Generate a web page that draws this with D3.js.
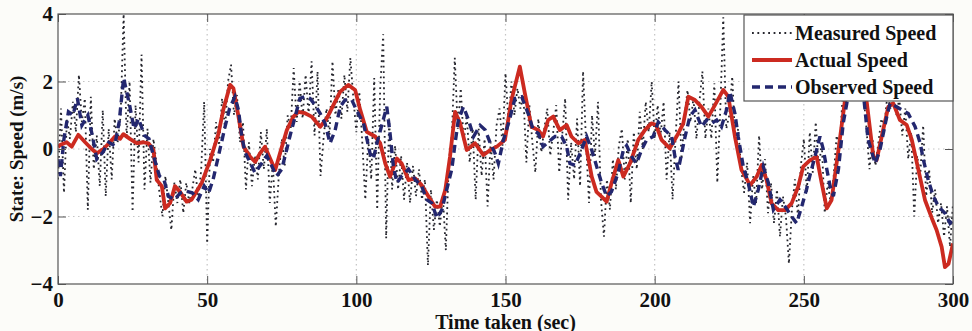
<!DOCTYPE html>
<html>
<head>
<meta charset="utf-8">
<script src="https://cdn.jsdelivr.net/npm/d3@7"></script>
<style>
  body { margin: 0; background: #fcfcf9; }
  text { font-family: "Liberation Serif", "Times New Roman", serif; font-weight: bold; fill: #111; }
</style>
</head>
<body>
<svg id="chart" width="972" height="331"></svg>
<script>
// ---- data ----
const xTicks = [0, 50, 100, 150, 200, 250, 300];
const yTicks = [-4, -2, 0, 2, 4];
const seriesNames = ["Measured Speed", "Actual Speed", "Observed Speed"];

// actual speed, sampled where the curve was read
const actualTime = [0, 0.7, 2.9, 4.6, 6.8, 9.1, 11.3, 13, 15.2, 17.4, 19.1, 20.8, 21.9, 24.1, 26.4, 28.6, 30.3, 32, 33.1, 34.8,
  35.9, 37.6, 39.2, 40.9, 43.1, 44.8, 48.2, 51, 53.8, 55.4, 57.7, 58.8, 60.5, 62.2, 64.4, 66.1, 67.7, 69.4, 71.1, 72.8,
  74.4, 76.7, 78.9, 80.6, 82.8, 85, 87.9, 90.1, 92.3, 94.6, 97.3, 99.6, 101.3, 103.5, 106.3, 108, 109.7, 111.3, 113.6, 115.2,
  117.5, 119.7, 121.9, 124.2, 126.4, 128.1, 129.8, 131.4, 133.1, 134.8, 137, 139.8, 142.6, 144.9, 147.1, 149.8, 152, 154.8, 156.5, 158.7,
  161, 162.6, 164.3, 166, 168.2, 170.5, 172.1, 174.4, 176.6, 178.9, 180.5, 182.2, 183.9, 185.5, 187.8, 189.5, 191.7, 194.5, 196.7, 198.9,
  200.4, 202.3, 205.1, 207.9, 209.6, 211.3, 213.5, 215.7, 218, 220.2, 223, 224.7, 226.9, 229.1, 232, 234.2, 235.9, 237.5, 239.2, 241.4,
  243.7, 245.9, 248.1, 249.8, 252.1, 254.3, 256, 257.7, 259.3, 261.6, 263.8, 266.5, 269, 271, 273.3, 274.4, 276.1, 278.3, 280, 282.2,
  284.5, 286.2, 288.4, 290.6, 292.9, 294.5, 296.2, 297.3, 298.5, 300];
const actualSpeed = [0.05, 0.12, 0.2, 0.07, 0.42, 0.2, 0.0, -0.13, 0.0, 0.2, 0.37, 0.3, 0.44, 0.3, 0.17, 0.2, 0.17, -0.03, -0.92, -1.1,
  -1.76, -1.6, -1.1, -1.27, -1.56, -1.5, -1.0, -0.33, 0.46, 1.16, 1.9, 1.8, 0.96, 0.07, -0.23, -0.38, -0.13, 0.07, -0.28, -0.62,
  -0.13, 0.56, 0.96, 1.1, 1.06, 0.96, 0.66, 0.91, 1.3, 1.7, 1.9, 1.75, 1.16, 0.51, 0.37, 0.17, -0.43, -0.82, -0.28, -0.43,
  -0.92, -0.87, -1.07, -1.41, -1.71, -1.71, -1.22, -0.23, 1.1, 0.76, -0.03, 0.17, -0.18, -0.03, 0.07, 0.27, 1.45, 2.44, 1.65, 0.66,
  0.56, 0.37, 0.86, 0.96, 0.56, 0.71, 0.37, 0.17, 0.27, -0.82, -1.27, -1.41, -1.56, -1.02, -0.33, -0.82, -0.43, 0.27, 0.56, 0.76,
  0.72, 0.27, 0.02, 0.46, 0.76, 1.55, 1.45, 1.25, 0.96, 1.3, 1.75, 1.55, 0.37, -0.62, -1.07, -0.82, -0.47, -0.92, -1.61, -1.81,
  -1.81, -1.61, -1.12, -0.52, -0.33, -0.23, -1.02, -1.76, -1.51, -0.03, 1.45, 2.6, 2.5, 1.45, -0.23, -0.33, 0.37, 1.25, 1.35, 0.86,
  0.71, 0.27, -0.62, -1.51, -2.05, -2.4, -2.9, -3.5, -3.4, -2.8];

// observed (estimated) speed
const observedTime = [0, 0.8, 2, 3.5, 5, 6.5, 8, 10, 11.5, 13, 15, 17, 19, 20.5, 22, 24, 25.5, 27, 29, 30.5,
  32, 34, 35.5, 37, 39, 41, 43, 45, 47, 49, 50.5, 52, 53.8, 56, 57.5, 59.3, 60.5, 61.6, 62.7, 64.4,
  66, 67.7, 70, 71.6, 73.3, 75, 76.7, 77.8, 79.5, 81.1, 82.8, 84.5, 86.2, 87.9, 89.5, 91.2, 92.9, 94.6, 96.2, 98.5,
  100, 102.4, 104.6, 105.7, 106.9, 109, 110.2, 111.3, 112.4, 113.6, 115.2, 117.5, 119.7, 121.9, 123.6, 125.3, 127, 128.7, 130.3, 132,
  133.1, 134.2, 135.9, 137.6, 139.3, 141.5, 143.2, 144.9, 146.5, 147.6, 149.3, 151, 153.2, 155.4, 157.6, 159.3, 161, 162.6, 164.3, 166.6,
  168.8, 170.5, 171.6, 173.3, 175, 177.2, 178.9, 180.5, 182.2, 183.9, 185.5, 187.8, 189.5, 190.6, 192.3, 193.9, 195.6, 197.3, 199.5, 201.2,
  203.5, 205.7, 206.8, 207.9, 210.2, 211.8, 213.5, 215.7, 217.4, 219.1, 220.8, 222.4, 224.1, 225.2, 226.9, 228, 229.7, 231.4, 233.1, 234.7,
  236.4, 238.1, 239.8, 242, 243.7, 245.9, 247.6, 249.3, 250.9, 252, 253.8, 255.4, 256.5, 257.7, 258.8, 259.9, 261.6, 263.2, 264.4, 266,
  268, 270, 271.5, 273.9, 275.5, 277.8, 278.9, 281.1, 282.8, 285, 287.3, 289, 290.1, 291.7, 293.4, 295.1, 297.3, 299, 300];
const observedSpeed = [-0.3, -0.8, 0.3, 1.1, 1.0, 1.5, 0.7, 1.0, 0.4, -0.3, -0.1, 0.2, 0.1, 0.8, 2.1, 1.3, 0.6, 0.9, 0.4, 0.3,
  -0.2, -0.8, -0.9, -1.4, -1.5, -1.3, -1.25, -1.3, -1.5, -1.1, -1.3, -0.9, -0.2, 0.66, 1.2, 1.55, 1.15, 0.37, -0.1, -0.4,
  -0.7, -0.5, -0.2, -0.5, -0.8, -0.6, 0, 0.4, 0.96, 1.5, 1.55, 1.5, 1.3, 1.05, 0.76, 0.17, 0.56, 1.25, 1.45, 1.45,
  1.16, 0.76, -0.13, -0.3, 0.17, 0.86, 1.25, 0.46, -0.5, -1.0, -0.8, -0.6, -0.9, -1.1, -1.5, -1.6, -2.05, -1.8, -1.2, -0.6,
  0.17, 0.86, 1.25, 0.86, 0.37, 0.7, 0.56, 0.17, -0.13, -0.43, 0.27, 0.76, 1.5, 1.55, 1.05, 0.56, 0.46, 0.07, 0.2, 0.37,
  0.37, 0.07, -0.43, -0.48, -0.13, 0.37, -0.03, -0.5, -1.0, -1.4, -1.27, -0.7, -0.03, 0.1, -0.23, -0.43, -0.03, 0.27, 0.37, 0.8,
  0.56, 0.37, -0.23, -0.62, 0.37, 0.96, 1.16, 0.66, 0.86, 0.76, 0.86, 0.66, 1.16, 1.7, 1.05, 0.37, -0.52, -1.02, -1.71, -1.22,
  -0.52, -1.0, -1.8, -1.5, -1.7, -2.0, -2.2, -1.7, -1.2, -0.8, -0.2, 0.37, 0, -0.6, -1.1, -1.4, -0.6, 0.76, 1.35, 2.3,
  2.6, 1.6, 0.3, -0.43, -0.03, 0.96, 1.35, 1.25, 1.16, 1.05, 0.66, 0.17, -0.33, -0.92, -1.4, -1.7, -1.9, -2.2, -2.1];

// measured speed, one sample per second (t = 0..300)
const measuredSpeed = [
  -0.9, 1.2, -1.3, 0.9, 0.3, 1.4, 0.5, 2.2, 0.8, 1.5,
  -1.8, 1.55, -0.6, 0.4, -1.1, 1.15, -1.4, 0.6, -0.9, 0.9,
  0.2, 1.0, 4.0, 0.3, 2.0, -1.86, 1.3, -0.4, 2.8, -1.2,
  0.6, -1.0, 0.3, -0.4, -1.3, -2.0, -0.8, -1.6, -2.4, -1.0,
  -1.6, -0.9, -1.9, -1.0, -1.6, -1.2, -0.6, -1.5, -0.6, 1.4,
  -2.8, 0.0, -0.4, 0.8, 0.1, 1.5, 0.6, 2.0, 2.5, 1.0,
  1.6, 0.2, 0.8, -1.2, 0.2, -1.1, -0.2, -0.9, 0.5, -0.6,
  0.6, -1.6, -0.4, -2.3, -0.8, 0.3, -0.5, 1.0, 0.6, 2.4,
  0.8, 2.0, 0.9, 2.2, 1.0, 2.6, 0.4, 2.3, -0.8, 0.3,
  1.2, 0.4, 2.6, 1.0, 1.8, 0.9, 2.2, 1.1, 2.7, 1.5,
  0.5, 1.7, 0.2, -1.5, 0.3, -0.9, 2.1, -1.8, 1.8, 3.4,
  -2.65, 0.9, -1.2, 0.1, -1.2, -0.2, -1.5, -0.4, -1.6, -0.5,
  -1.4, -0.6, -1.5, -0.9, -3.45, -1.2, -2.4, -1.5, -2.3, -1.4,
  -3.0, -0.4, 0.4, 2.7, 0.6, 1.8, 0.2, 1.0, -0.4, 0.6,
  -1.5, 0.6, -0.8, 0.3, -1.7, 0.2, -0.9, 0.7, 1.2, 0.1,
  2.25, 0.8, 2.0, 1.0, 1.8, 1.2, 1.6, -0.4, 1.3, 0.2,
  -0.7, 0.9, -0.1, 0.6, 1.2, -0.2, 0.5, 1.3, -0.7, 0.4,
  1.5, -1.5, 0.2, -0.9, 0.9, -1.1, 2.3, 0.2, -1.6, 1.0,
  -0.2, 1.4, -1.5, -2.6, -0.9, -1.8, -0.3, -1.2, 0.1, 0.6,
  -0.9, 0.3, -1.6, 0.5, -0.6, 1.1, 0.0, 1.4, 0.5, 2.0,
  0.3, 1.3, 0.4, 1.4, -0.9, 0.5, -1.5, 0.3, 2.0, -0.3,
  0.9, 1.75, 0.8, 1.5, 0.3, 1.4, 2.3, 0.3, 1.2, 0.3,
  1.95, -1.0, 1.2, 3.9, 0.6, 1.0, 2.15, 0.2, 0.6, -0.6,
  -1.3, -0.4, -2.2, -0.8, -1.6, 0.4, -1.2, -0.3, -1.9, -1.0,
  -2.2, -1.2, -2.6, -1.4, -2.0, -3.4, -1.8, -0.9, -2.0, -0.5,
  0.3, -1.3, 0.5, -0.7, 0.8, -0.6, 0.2, -1.9, -1.0, -1.6,
  -0.8, 0.4, 0.0, 1.6, 1.2, 2.5, 2.2, 3.0, 2.4, 2.6,
  1.6, 0.6, -0.6, 0.3, -0.5, 0.2, 0.9, 0.7, 1.6, 1.2,
  1.8, 1.0, 1.5, 0.4, 1.2, -0.3, 0.5, -2.0, -0.2, -0.8,
  0.7, -1.4, -0.6, -1.9, -1.2, -2.2, -1.6, -2.6, -1.7, -2.9,
  -1.6];
const measuredTime = d3.range(0, measuredSpeed.length);

// ---- layout ----
const width = 972, height = 331;
const margin = { top: 14, right: 19, bottom: 47, left: 58 };

const svg = d3.select("#chart");

const x = d3.scaleLinear().domain([0, 300]).range([margin.left, width - margin.right]);
const y = d3.scaleLinear().domain([-4, 4]).range([height - margin.bottom, margin.top]);

svg.append("defs").append("clipPath").attr("id", "plot-clip")
  .append("rect")
  .attr("x", x(0)).attr("y", y(4))
  .attr("width", x(300) - x(0)).attr("height", y(-4) - y(4));

// plot background
svg.append("rect")
  .attr("x", x(0)).attr("y", y(4))
  .attr("width", x(300) - x(0)).attr("height", y(-4) - y(4))
  .attr("fill", "#ffffff");

// dotted grid
const grid = svg.append("g").attr("stroke", "#c4c4c4").attr("stroke-width", 1.2).attr("stroke-dasharray", "1.5,3.5");
grid.selectAll("line.gx").data(xTicks.slice(1, -1)).join("line")
  .attr("x1", d => x(d)).attr("x2", d => x(d))
  .attr("y1", y(4)).attr("y2", y(-4));
grid.selectAll("line.gy").data(yTicks.slice(1, -1)).join("line")
  .attr("y1", d => y(d)).attr("y2", d => y(d))
  .attr("x1", x(0)).attr("x2", x(300));

// series
const plot = svg.append("g").attr("clip-path", "url(#plot-clip)");

const measuredLine = d3.line().x((d, i) => x(measuredTime[i])).y(d => y(d));
const actualLine = d3.line().x((d, i) => x(actualTime[i])).y(d => y(d));
const observedLine = d3.line().x((d, i) => x(observedTime[i])).y(d => y(d));

const measuredStyle = { color: "#26262e", w: 1.8, dash: "1.8,3.6" };
const actualStyle = { color: "#cc2a20", w: 3.8, dash: null };
const observedStyle = { color: "#23276f", w: 3.4, dash: "8,5" };

plot.append("path")
  .attr("d", measuredLine(measuredSpeed))
  .attr("fill", "none")
  .attr("stroke", measuredStyle.color)
  .attr("stroke-width", measuredStyle.w)
  .attr("stroke-dasharray", measuredStyle.dash);

plot.append("path")
  .attr("d", actualLine(actualSpeed))
  .attr("fill", "none")
  .attr("stroke", actualStyle.color)
  .attr("stroke-width", actualStyle.w)
  .attr("stroke-linejoin", "round");

plot.append("path")
  .attr("d", observedLine(observedSpeed))
  .attr("fill", "none")
  .attr("stroke", observedStyle.color)
  .attr("stroke-width", observedStyle.w)
  .attr("stroke-dasharray", observedStyle.dash);

// axes (ticks point inwards, like matlab)
const axisColor = "#555";
svg.append("g")
  .attr("transform", `translate(0,${y(-4)})`)
  .call(d3.axisBottom(x).tickValues(xTicks).tickSize(-8).tickPadding(8));
svg.append("g")
  .attr("transform", `translate(${x(0)},0)`)
  .call(d3.axisLeft(y).tickValues(yTicks).tickSize(-8).tickPadding(5));
svg.append("g")
  .attr("transform", `translate(0,${y(4)})`)
  .call(d3.axisTop(x).tickValues(xTicks).tickSize(-8).tickFormat(""));
svg.append("g")
  .attr("transform", `translate(${x(300)},0)`)
  .call(d3.axisRight(y).tickValues(yTicks).tickSize(-8).tickFormat(""));

svg.selectAll(".domain").remove();
svg.selectAll(".tick line").attr("stroke", axisColor);
svg.selectAll(".tick text")
  .attr("font-family", "Liberation Serif, serif")
  .attr("font-weight", "bold")
  .attr("font-size", 21)
  .attr("fill", "#111");

// frame
svg.append("rect")
  .attr("x", x(0)).attr("y", y(4))
  .attr("width", x(300) - x(0)).attr("height", y(-4) - y(4))
  .attr("fill", "none")
  .attr("stroke", axisColor)
  .attr("stroke-width", 1.2);

// axis titles
svg.append("text")
  .attr("transform", `translate(23,${y(0)}) rotate(-90)`)
  .attr("text-anchor", "middle")
  .attr("font-size", 19)
  .text("State: Speed (m/s)");

svg.append("text")
  .attr("x", x(150))
  .attr("y", 329)
  .attr("text-anchor", "middle")
  .attr("font-size", 20)
  .text("Time taken (sec)");

// legend
const legend = svg.append("g").attr("transform", "translate(744,15)");
legend.append("rect")
  .attr("width", 209).attr("height", 86)
  .attr("fill", "#ffffff")
  .attr("stroke", axisColor)
  .attr("stroke-width", 1.2);

const legendStyles = [measuredStyle, actualStyle, observedStyle];
const row = legend.selectAll("g.row").data(seriesNames).join("g")
  .attr("transform", (d, i) => `translate(0,${18 + i * 27})`);
row.append("line")
  .attr("x1", 8).attr("x2", 48)
  .attr("stroke", (d, i) => legendStyles[i].color)
  .attr("stroke-width", (d, i) => legendStyles[i].w)
  .attr("stroke-dasharray", (d, i) => legendStyles[i].dash);
row.append("text")
  .attr("x", 51)
  .attr("dy", "0.35em")
  .attr("font-size", 20)
  .text(d => d);
</script>
</body>
</html>
